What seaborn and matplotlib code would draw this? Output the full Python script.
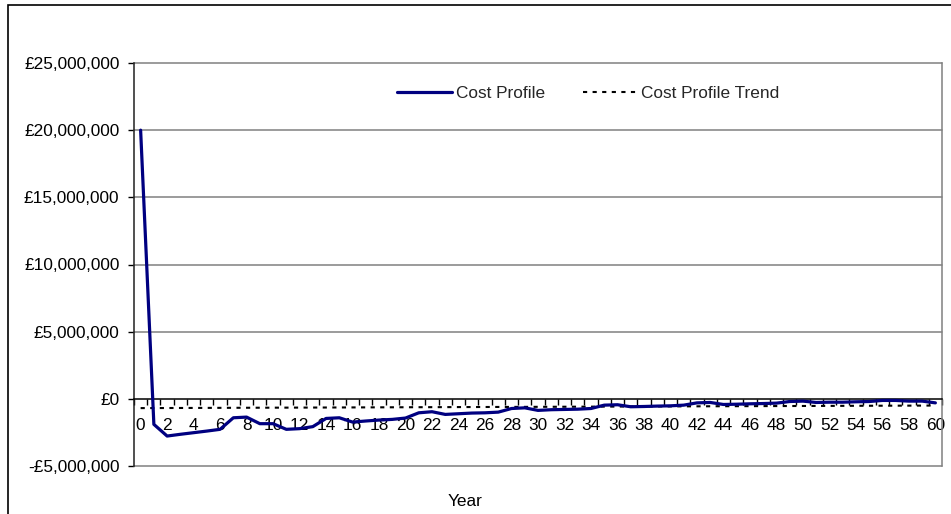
import numpy as np
import pandas as pd
import matplotlib
matplotlib.use("Agg")
import matplotlib.pyplot as plt
from matplotlib.ticker import FuncFormatter, FixedLocator
from matplotlib.patches import Rectangle
import seaborn as sns

# Annual cost profile (GBP), years 0..60
years = list(range(61))
cost_profile = [
    20000000, -1900000, -2770000, -2640000, -2520000, -2400000, -2270000,
    -1410000, -1360000, -1850000, -1850000, -2270000, -2220000, -2070000,
    -1460000, -1410000, -1730000, -1650000, -1580000, -1530000, -1430000,
    -1040000, -960000, -1160000, -1110000, -1060000, -1040000, -990000,
    -720000, -670000, -860000, -810000, -790000, -770000, -720000,
    -470000, -440000, -590000, -570000, -540000, -520000, -470000,
    -300000, -270000, -420000, -400000, -370000, -350000, -320000,
    -200000, -170000, -270000, -250000, -250000, -220000, -200000,
    -120000, -120000, -170000, -170000, -300000,
]

# Linear trend line end points
trend_years = [0, 60]
trend_values = [-690000, -500000]

y_ticks = [-5000000, 0, 5000000, 10000000, 15000000, 20000000, 25000000]
x_labels = list(range(0, 61, 2))

sns.set_theme(style="white")
plt.rcParams["font.family"] = ["Liberation Sans", "DejaVu Sans"]

W, H = 951, 514
fig = plt.figure(figsize=(W / 100, H / 100), dpi=100)
ax = fig.add_axes([134 / W, 1 - 466 / H, (942 - 134) / W, (466 - 63) / H])

df = pd.DataFrame({"Year": years, "Cost": cost_profile})
trend_df = pd.DataFrame({"Year": trend_years, "Cost": trend_values})

sns.lineplot(data=df, x="Year", y="Cost", ax=ax, color="#000080",
             linewidth=2.3, label="Cost Profile", zorder=4)
sns.lineplot(data=trend_df, x="Year", y="Cost", ax=ax, color="black",
             linewidth=1.5, dashes=False, label="Cost Profile Trend", zorder=3)
ax.lines[1].set_dashes((2, 2.6))

ax.set_xlim(-0.5, 60.5)
ax.set_ylim(-5000000, 25000000)

# Horizontal gridlines
ax.yaxis.set_major_locator(FixedLocator(y_ticks))
for v in y_ticks:
    if v != 0:
        ax.axhline(v, color="#808080", linewidth=1.1, zorder=1, clip_on=False)

ax.yaxis.set_major_formatter(FuncFormatter(
    lambda v, p: ("-£{:,.0f}".format(-v) if v < 0 else "£{:,.0f}".format(v))))
ax.tick_params(axis="y", which="major", direction="out", length=4.5, width=1,
               color="black", pad=6, labelsize=12.4, left=True, labelcolor="black")

# Category axis crossing at zero
ax.spines["bottom"].set_position(("data", 0))
ax.spines["bottom"].set_color("black")
ax.spines["bottom"].set_linewidth(1.1)
ax.spines["left"].set_color("#202020")
ax.spines["left"].set_linewidth(1.1)
ax.spines["top"].set_visible(False)
ax.spines["right"].set_color("#808080")
ax.spines["right"].set_linewidth(1.1)

ax.xaxis.set_major_locator(FixedLocator(x_labels))
ax.xaxis.set_minor_locator(FixedLocator([i - 0.5 for i in range(62)]))
ax.set_xticklabels([str(v) for v in x_labels])
ax.tick_params(axis="x", which="major", length=0, pad=14, labelsize=12.4,
               bottom=True, labelcolor="black")
ax.tick_params(axis="x", which="minor", direction="out", length=4.3, width=1,
               color="black", bottom=True)

ax.set_xlabel("")
ax.set_ylabel("")

ax.legend(loc="center", bbox_to_anchor=(588.5 / W, 1 - 93 / H),
          bbox_transform=fig.transFigure, ncol=2, frameon=False,
          fontsize=12.4, handlelength=3.2, handletextpad=0.2,
          columnspacing=2.2, borderpad=0)

fig.text(465 / W, 1 - 506.5 / H, "Year", ha="center", va="baseline",
         fontsize=12.4, color="black")

# Chart area border
fig.patches.append(Rectangle((7.5 / W, -0.1), 1.2, 1.1 - 5.5 / H,
                             transform=fig.transFigure, fill=False,
                             edgecolor="black", linewidth=1.2))

fig.savefig("out.png", dpi=100, facecolor="white")
